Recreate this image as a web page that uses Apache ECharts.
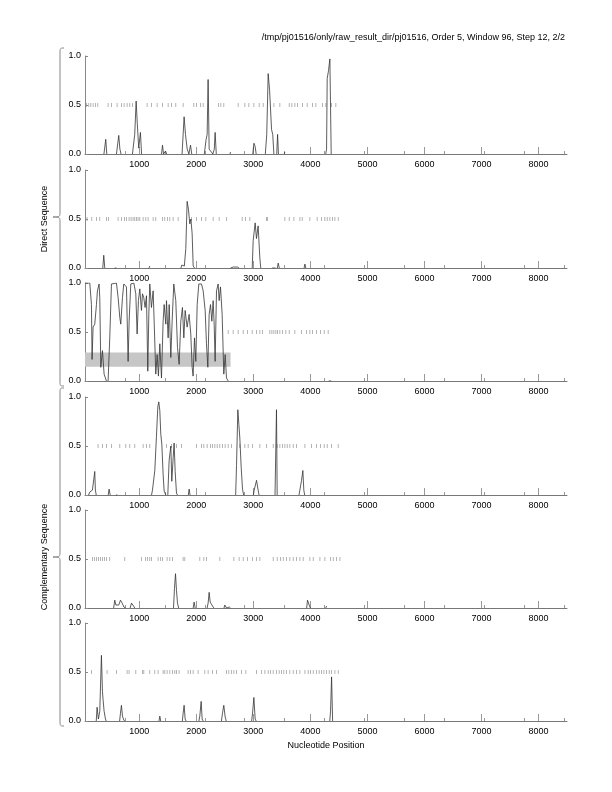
<!DOCTYPE html>
<html>
<head>
<meta charset="utf-8">
<script src="https://cdn.jsdelivr.net/npm/echarts@6/dist/echarts.min.js"></script>
<style>html,body{margin:0;padding:0;background:#fff}#c{width:612px;height:792px}</style>
</head>
<body>
<div id="c"></div>
<script>
// ---------- DATA ----------
const titleText = "/tmp/pj01516/only/raw_result_dir/pj01516, Order 5, Window 96, Step 12, 2/2";
const xAxisName = "Nucleotide Position";
const groupLabels = ["Direct Sequence", "Complementary Sequence"];
const xRange = [48, 8500];
const majorTicks = [1000, 2000, 3000, 4000, 5000, 6000, 7000, 8000];
const minorTicks = [748, 1448, 2148, 2848, 3548, 4248, 4948, 5648, 6348, 7048, 7748, 8448];
const yTicks = [0, 0.5, 1];

const line1 = [[48,0],[380,0],[412,0.15],[430,0],[600,0],[625,0.12],[640,0.19],[660,0.05],[680,0],[880,0],[920,0.2],[945,0.54],[965,0.31],[990,0.06],[1020,0.22],[1040,0],[1390,0],[1407,0.09],[1425,0],[1460,0.03],[1480,0],[1750,0],[1786,0.38],[1810,0.2],[1840,0.05],[1870,0],[1898,0.09],[1920,0],[2140,0],[2172,0.15],[2190,0.2],[2207,0.76],[2225,0.05],[2260,0.04],[2290,0],[2315,0.05],[2330,0.22],[2350,0],[2590,0],[2600,0.02],[2620,0],[2990,0],[3010,0.11],[3030,0.08],[3050,0],[3210,0],[3235,0.2],[3260,0.82],[3285,0.65],[3319,0.25],[3340,0.2],[3360,0],[3410,0],[3425,0.2],[3440,0],[3540,0],[3553,0.02],[3570,0],[4270,0],[4284,0.05],[4295,0.77],[4318,0.85],[4342,0.97],[4365,0],[4480,0]];
const line2 = [[48,0],[360,0],[377,0.13],[395,0],[570,0],[580,0.01],[600,0],[1170,0],[1184,0.02],[1200,0],[1730,0],[1746,0.03],[1790,0.02],[1816,0.2],[1839,0.68],[1862,0.6],[1886,0.45],[1905,0.5],[1927,0.35],[1945,0.02],[1970,0],[2600,0],[2650,0.01],[2720,0.01],[2750,0],[2980,0],[2997,0.28],[3032,0.46],[3055,0.3],[3084,0.43],[3114,0.1],[3130,0],[3330,0],[3360,0.02],[3390,0],[3420,0],[3436,0.05],[3455,0],[3890,0],[3904,0.04],[3920,0],[4480,0]];
const line3 = [[48,1.0],[132,1.0],[161,0.78],[172,0.22],[190,0.55],[219,0.58],[249,0.78],[266,0.92],[295,0.99],[307,0.85],[325,0.14],[354,0.31],[383,0.07],[424,0],[453,0],[482,0.44],[512,0.99],[599,1.0],[629,0.85],[658,0.65],[675,0.58],[705,0.85],[728,0.99],[775,0.96],[804,0.2],[822,0.61],[851,0.99],[904,1.0],[939,0.89],[962,0.48],[985,0.82],[1009,0.94],[1038,0.72],[1056,0.89],[1079,0.85],[1102,0.75],[1126,0.87],[1149,0.1],[1167,0.68],[1184,0.99],[1213,0.75],[1243,0.92],[1266,0.51],[1289,0.07],[1313,0.27],[1336,0.05],[1360,0.38],[1389,0.03],[1418,0.61],[1436,0.78],[1465,0.58],[1477,0.82],[1506,0.44],[1524,0.78],[1553,0.24],[1576,0.61],[1605,0.99],[1640,0.82],[1670,0.34],[1699,0.17],[1728,0.61],[1757,0.75],[1781,0.44],[1804,0.72],[1839,0.55],[1874,0.68],[1903,0.48],[1927,0.14],[1944,0.05],[1968,0.44],[1991,0.2],[2015,0.78],[2044,0.99],[2091,0.99],[2120,0.92],[2155,0.72],[2178,0.38],[2202,0.14],[2225,0.68],[2249,0.78],[2272,0.61],[2295,0.82],[2313,0.58],[2330,0.2],[2354,0.92],[2383,0.99],[2400,0.82],[2424,0.96],[2453,0.68],[2482,0.07],[2506,0.27],[2529,0.03],[2559,0],[4320,0],[4342,0.01],[4365,0]];
const line4 = [[48,0],[110,0],[132,0.03],[160,0.02],[178,0.05],[200,0.03],[219,0.24],[230,0.05],[245,0],[455,0],[471,0.06],[490,0],[590,0],[600,0.01],[615,0],[1215,0],[1231,0.05],[1272,0.25],[1301,0.6],[1325,0.9],[1342,0.95],[1360,0.86],[1377,0.62],[1395,0.52],[1418,0.21],[1436,0.04],[1465,0],[1500,0],[1523,0.35],[1553,0.5],[1570,0.14],[1594,0.38],[1611,0.53],[1629,0.24],[1652,0.02],[1670,0],[1860,0],[1874,0.06],[1890,0],[2690,0],[2705,0.3],[2728,0.87],[2746,0.72],[2763,0.58],[2787,0.28],[2810,0.06],[2830,0],[3000,0],[3015,0.05],[3056,0.15],[3084,0.05],[3100,0],[3380,0],[3395,0.02],[3406,0.87],[3418,0],[3800,0],[3816,0.05],[3845,0.15],[3868,0.25],[3885,0.05],[3900,0],[4480,0]];
const line5 = [[48,0],[550,0],[570,0.08],[590,0.03],[640,0.03],[670,0.08],[700,0.05],[730,0.01],[760,0],[840,0],[863,0.05],[880,0.07],[900,0.02],[920,0],[1600,0],[1617,0.2],[1635,0.35],[1652,0.18],[1670,0.05],[1690,0],[1945,0],[1962,0.06],[1980,0],[2190,0],[2207,0.05],[2225,0.16],[2243,0.06],[2265,0.04],[2295,0.01],[2310,0],[2485,0],[2500,0.03],[2530,0],[2580,0.01],[2600,0],[3935,0],[3950,0.08],[3970,0.09],[3985,0.02],[4000,0],[4270,0],[4284,0.02],[4300,0],[4520,0]];
const line6 = [[48,0],[245,0],[260,0.14],[283,0.02],[307,0.1],[336,0.67],[354,0.3],[365,0.22],[383,0.1],[407,0.02],[420,0],[655,0],[670,0.08],[687,0.16],[705,0.05],[728,0.01],[745,0],[1345,0],[1360,0.05],[1375,0],[1755,0],[1769,0.08],[1786,0.16],[1804,0.02],[1820,0],[2045,0],[2061,0.05],[2085,0.2],[2102,0.02],[2120,0],[2440,0],[2459,0.08],[2482,0.16],[2506,0.04],[2525,0],[2970,0],[2986,0.08],[3009,0.24],[3032,0.02],[3050,0],[4340,0],[4354,0.1],[4372,0.45],[4390,0],[4520,0]];

const stops1 = [73,114,149,190,231,272,453,512,611,687,734,787,833,880,1137,1213,1313,1406,1506,1564,1640,1769,1956,2003,2073,2120,2389,2430,2482,2734,2851,2921,3009,3102,3173,3360,3465,3629,3675,3728,3775,3863,3944,4038,4096,4214,4272,4372,4447];
const stops2 = [84,167,249,307,425,460,628,688,740,775,821,856,891,921,951,979,1009,1067,1114,1155,1243,1289,1407,1447,1495,1535,1593,1681,1916,2003,2091,2167,2295,2400,2530,2804,2863,2939,3231,3249,3553,3629,3711,3816,3856,3991,4119,4196,4254,4295,4342,4389,4430,4488];
const stops3 = [2559,2646,2734,2822,2898,2980,3056,3114,3161,3289,3325,3360,3395,3424,3465,3512,3570,3629,3728,3845,3933,3991,4038,4108,4178,4242,4312];
const stops4 = [277,354,425,512,658,763,833,921,1067,1126,1184,1477,1565,1652,1740,2003,2091,2132,2190,2249,2284,2325,2366,2412,2459,2505,2558,2617,2763,2851,2909,2986,3114,3231,3348,3418,3465,3512,3553,3594,3640,3699,3757,3904,4021,4108,4178,4242,4295,4372,4488];
const stops5 = [178,213,249,284,319,354,389,425,482,745,1038,1108,1143,1184,1213,1330,1371,1407,1488,1535,1582,1769,1798,2061,2132,2178,2412,2658,2751,2822,2898,2986,3056,3114,3348,3418,3477,3524,3582,3640,3699,3757,3816,3874,3991,4050,4167,4254,4354,4401,4459,4518];
const stops6 = [161,435,600,786,821,939,1056,1079,1184,1272,1330,1418,1447,1488,1535,1582,1623,1652,1698,1856,1898,1944,2032,2149,2207,2284,2354,2530,2570,2617,2658,2705,2793,2868,3056,3144,3202,3260,3302,3348,3407,3453,3494,3535,3582,3640,3699,3757,3816,3904,3962,4004,4050,4108,4154,4196,4237,4284,4330,4372,4430,4488];
const stopLevel = 0.5;
const shadeX = [48, 2600];
const shadeY = [0.146, 0.29];
const shadePanel = 2;

// ---------- CHART ----------
const lines = [line1, line2, line3, line4, line5, line6];
const stops = [stops1, stops2, stops3, stops4, stops5, stops6];
const tops = [56, 170, 283, 397, 510, 623];
const FONT = "'Liberation Sans', Arial, Helvetica, sans-serif";

// split long flat zero runs (they lie on the axis line) into separate pieces
function splitZeroRuns(pts) {
  const out = [];
  pts.forEach((p, k) => {
    if (k > 0 && p[1] === 0 && pts[k - 1][1] === 0) out.push([p[0], null]);
    out.push(p);
  });
  return out;
}

const grids = [], xAxes = [], yAxes = [], series = [];
tops.forEach((t, i) => {
  grids.push({left: 85, width: 482, top: t, height: 98});
  xAxes.push({
    type: 'value', gridIndex: i, min: xRange[0], max: xRange[1], position: 'bottom',
    axisLine: {show: true, onZero: false, lineStyle: {color: '#777', width: 1}},
    axisTick: {show: true, inside: true, length: 7, customValues: majorTicks, lineStyle: {color: '#999', width: 1}},
    axisLabel: {show: true, customValues: majorTicks, color: '#000', fontSize: 9, fontFamily: FONT, margin: 6, formatter: v => String(v)},
    splitLine: {show: false}
  });
  xAxes.push({
    type: 'value', gridIndex: i, min: xRange[0], max: xRange[1], position: 'bottom',
    axisLine: {show: false},
    axisTick: {show: true, inside: true, length: 3, customValues: minorTicks, lineStyle: {color: '#999', width: 1}},
    axisLabel: {show: false},
    splitLine: {show: false}
  });
  yAxes.push({
    type: 'value', gridIndex: i, min: 0, max: 1, interval: 0.5,
    axisLine: {show: true, lineStyle: {color: '#888', width: 1}},
    axisTick: {show: true, inside: true, length: 3, lineStyle: {color: '#888'}},
    axisLabel: {color: '#000', fontSize: 9, fontFamily: FONT, margin: 4, formatter: v => v.toFixed(1)},
    splitLine: {show: false}
  });
  const sc = {
    type: 'scatter', xAxisIndex: 2 * i, yAxisIndex: i, z: 1,
    symbol: 'rect', symbolSize: [0.8, 4], silent: true,
    itemStyle: {color: '#8a8a8a'},
    data: stops[i].map(x => [x, stopLevel])
  };
  if (i === shadePanel) {
    sc.markArea = {silent: true, itemStyle: {color: '#c6c6c6', opacity: 1},
      data: [[{coord: [shadeX[0], shadeY[0]]}, {coord: [shadeX[1], shadeY[1]]}]]};
  }
  series.push(sc);
  series.push({
    type: 'line', xAxisIndex: 2 * i, yAxisIndex: i, z: 3, silent: true,
    showSymbol: false, animation: false, connectNulls: false,
    lineStyle: {color: '#333', width: 0.8},
    data: splitZeroRuns(lines[i])
  });
});

function brace(y0, y1) {
  const ym = (y0 + y1) / 2, x = 60, xr = 64, xt = 53;
  const st = {stroke: '#888', fill: null, lineWidth: 1};
  return [
    {type: 'bezierCurve', shape: {x1: xr, y1: y0, cpx1: x, cpy1: y0, cpx2: x, cpy2: y0, x2: x, y2: y0 + 6}, style: st},
    {type: 'line', shape: {x1: x, y1: y0 + 6, x2: x, y2: ym - 6}, style: st},
    {type: 'bezierCurve', shape: {x1: x, y1: ym - 6, cpx1: x, cpy1: ym, cpx2: x, cpy2: ym, x2: xt, y2: ym}, style: st},
    {type: 'bezierCurve', shape: {x1: xt, y1: ym, cpx1: x, cpy1: ym, cpx2: x, cpy2: ym, x2: x, y2: ym + 6}, style: st},
    {type: 'line', shape: {x1: x, y1: ym + 6, x2: x, y2: y1 - 6}, style: st},
    {type: 'bezierCurve', shape: {x1: x, y1: y1 - 6, cpx1: x, cpy1: y1, cpx2: x, cpy2: y1, x2: xr, y2: y1}, style: st}
  ];
}

const chart = echarts.init(document.getElementById('c'));
chart.setOption({
  animation: false,
  backgroundColor: '#fff',
  grid: grids, xAxis: xAxes, yAxis: yAxes, series: series,
  graphic: [
    {type: 'text', right: 47, top: 33, style: {text: titleText, fontSize: 9, fontFamily: FONT, fill: '#000'}},
    {type: 'text', x: 326, y: 746, style: {text: xAxisName, fontSize: 9, fontFamily: FONT, fill: '#000', align: 'center', verticalAlign: 'middle'}},
    ...brace(48, 386),
    ...brace(388, 726),
    {type: 'text', x: 45, y: 219, rotation: Math.PI / 2, style: {text: groupLabels[0], fontSize: 9, fontFamily: FONT, fill: '#000', align: 'center', verticalAlign: 'middle'}},
    {type: 'text', x: 45, y: 557, rotation: Math.PI / 2, style: {text: groupLabels[1], fontSize: 9, fontFamily: FONT, fill: '#000', align: 'center', verticalAlign: 'middle'}}
  ]
});
</script>
</body>
</html>
